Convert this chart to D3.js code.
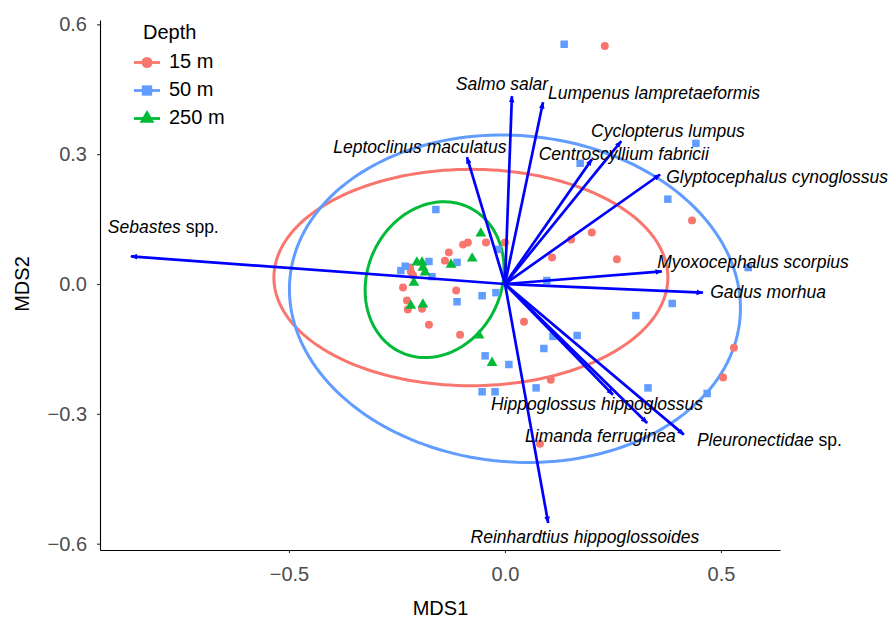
<!DOCTYPE html>
<html>
<head>
<meta charset="utf-8">
<script src="https://cdn.jsdelivr.net/npm/d3@7"></script>
<style>
  body { margin: 0; background: #fff; }
  text { font-family: Arial, "Liberation Sans", Helvetica, sans-serif; }
</style>
</head>
<body>
<svg id="chart" width="894" height="618"></svg>
<script>
// ---- NMDS site scores by sampling depth ----
const depths = ["15 m", "50 m", "250 m"];
const depthColors = ["#F8766D", "#619CFF", "#00BA38"];

const sites15 = [
  [0.231, 0.550], [0.433, 0.147], [0.201, 0.119], [0.153, 0.103], [0.109, 0.061],
  [0.259, 0.057], [0.000, 0.096], [-0.044, 0.096], [-0.086, 0.096], [-0.097, 0.091],
  [-0.130, 0.073], [-0.139, 0.054], [-0.220, 0.038], [-0.218, 0.029], [-0.213, 0.020],
  [-0.236, -0.008], [-0.113, -0.015], [-0.227, -0.038], [-0.225, -0.059], [-0.192, -0.057],
  [-0.176, -0.094], [-0.104, -0.117], [0.044, -0.087], [0.106, -0.221], [0.530, -0.147],
  [0.505, -0.216], [0.081, -0.369]
];
const sites50 = [
  [0.137, 0.554], [0.442, 0.325], [0.174, 0.279], [0.377, 0.196], [0.563, 0.038],
  [-0.160, 0.172], [-0.016, 0.080], [0.097, 0.008], [-0.176, 0.052], [-0.111, 0.050],
  [-0.241, 0.031], [-0.231, 0.041], [-0.169, 0.017], [-0.053, -0.027], [-0.021, -0.020],
  [-0.111, -0.041], [0.387, -0.045], [0.303, -0.073], [0.167, -0.119], [0.111, -0.121],
  [0.090, -0.149], [-0.046, -0.166], [0.009, -0.186], [-0.053, -0.249], [-0.023, -0.249],
  [0.072, -0.240], [0.331, -0.240], [0.468, -0.253]
];
const sites250 = [
  [-0.056, 0.117], [-0.076, 0.059], [-0.125, 0.045], [-0.204, 0.050], [-0.192, 0.050],
  [-0.190, 0.038], [-0.185, 0.027], [-0.211, 0.003], [-0.218, -0.050], [-0.190, -0.047],
  [-0.060, -0.119], [-0.030, -0.182]
];

// 95% confidence ellipses per depth: centre, semi-axes, rotation (degrees)
const ellipseCX = [-0.079, 0.023, -0.163];
const ellipseCY = [0.015, -0.034, 0.010];
const ellipseRX = [0.456, 0.523, 0.185];
const ellipseRY = [0.250, 0.377, 0.155];
const ellipseAngle = [0, -5, 65];

// ---- species vectors (envfit) ----
const species = [
  "Salmo salar", "Lumpenus lampretaeformis", "Cyclopterus lumpus", "Centroscyllium fabricii",
  "Glyptocephalus cynoglossus", "Leptoclinus maculatus", "Sebastes|spp.", "Myoxocephalus scorpius",
  "Gadus morhua", "Hippoglossus hippoglossus", "Limanda ferruginea", "Pleuronectidae|sp.",
  "Reinhardtius hippoglossoides"
];
const vectorX = [0.016, 0.088, 0.269, 0.201, 0.359, -0.088, -0.866, 0.363, 0.458, 0.250, 0.329, 0.414, 0.100];
const vectorY = [0.434, 0.420, 0.330, 0.288, 0.253, 0.293, 0.064, 0.029, -0.020, -0.256, -0.321, -0.348, -0.552];
const labelX = [-0.007, 0.345, 0.377, 0.275, 0.630, -0.197, -0.791, 0.574, 0.609, 0.213, 0.221, 0.612, 0.185];
const labelY = [0.462, 0.441, 0.355, 0.302, 0.249, 0.318, 0.133, 0.052, -0.017, -0.277, -0.351, -0.360, -0.584];

const xTicks = [-0.5, 0.0, 0.5];
const yTicks = [-0.6, -0.3, 0.0, 0.3, 0.6];

// ---- layout ----
const svg = d3.select("#chart");
const x = d3.scaleLinear().domain([-0.9375, 0.6366]).range([100, 780]);
const y = d3.scaleLinear().domain([-0.6146, 0.6100]).range([550, 20]);
const fmt = d3.format(".1f");

// axes
const xAxis = svg.append("g")
  .attr("transform", `translate(0,${y.range()[0]})`)
  .call(d3.axisBottom(x).tickValues(xTicks).tickFormat(fmt).tickSize(3).tickPadding(14).tickSizeOuter(0));
const yAxis = svg.append("g")
  .attr("transform", `translate(${x.range()[0]},0)`)
  .call(d3.axisLeft(y).tickValues(yTicks).tickFormat(fmt).tickSize(3).tickPadding(10).tickSizeOuter(0));
[xAxis, yAxis].forEach(g => {
  g.select(".domain").attr("stroke", "#000").attr("stroke-width", 1.1);
  g.selectAll(".tick line").attr("stroke", "#333").attr("stroke-width", 1.1);
  g.selectAll(".tick text").attr("fill", "#4D4D4D").style("font-size", "20px")
    .style("font-family", "Arial, 'Liberation Sans', sans-serif");
});

svg.append("text").attr("x", (x.range()[0] + x.range()[1]) / 2 + 0.5).attr("y", 615)
  .attr("text-anchor", "middle").style("font-size", "20px").attr("fill", "#000").text("MDS1");
svg.append("text").attr("transform", `translate(29,${y(0)}) rotate(-90)`)
  .attr("text-anchor", "middle").style("font-size", "20px").attr("fill", "#000").text("MDS2");

// ellipses
const ellipseLine = d3.line().x(d => x(d[0])).y(d => y(d[1])).curve(d3.curveLinearClosed);
depths.forEach((dep, i) => {
  const a = ellipseAngle[i] * Math.PI / 180;
  const pts = d3.range(0, 2 * Math.PI, Math.PI / 90).map(t => {
    const dx = ellipseRX[i] * Math.cos(t), dy = ellipseRY[i] * Math.sin(t);
    return [ellipseCX[i] + dx * Math.cos(a) - dy * Math.sin(a),
            ellipseCY[i] + dx * Math.sin(a) + dy * Math.cos(a)];
  });
  svg.append("path").attr("d", ellipseLine(pts)).attr("fill", "none")
    .attr("stroke", depthColors[i]).attr("stroke-width", 3);
});

// site points
const siteSets = [sites15, sites50, sites250];
const symbolTypes = [d3.symbolCircle, d3.symbolSquare, d3.symbolTriangle];
const symbolSizes = [50, 56, 50];
siteSets.forEach((set, i) => {
  svg.append("g").selectAll("path").data(set).join("path")
    .attr("transform", d => `translate(${x(d[0])},${y(d[1])})`)
    .attr("d", d3.symbol().type(symbolTypes[i]).size(symbolSizes[i]))
    .attr("fill", depthColors[i]);
});

// species vectors
svg.append("defs").append("marker")
  .attr("id", "arrowhead").attr("viewBox", "0 0 10 10").attr("refX", 9).attr("refY", 5)
  .attr("markerWidth", 7).attr("markerHeight", 7).attr("markerUnits", "userSpaceOnUse")
  .attr("orient", "auto")
  .append("path").attr("d", "M0,1 L10,5 L0,9 Z").attr("fill", "#0000FF");

svg.append("g").selectAll("line").data(species).join("line")
  .attr("x1", x(0)).attr("y1", y(0))
  .attr("x2", (d, i) => x(vectorX[i])).attr("y2", (d, i) => y(vectorY[i]))
  .attr("stroke", "#0000FF").attr("stroke-width", 2.7)
  .attr("marker-end", "url(#arrowhead)");

const labels = svg.append("g").selectAll("text").data(species).join("text")
  .attr("x", (d, i) => x(labelX[i])).attr("y", (d, i) => y(labelY[i]))
  .attr("dy", "0.36em").attr("text-anchor", "middle")
  .style("font-size", "17.5px").attr("fill", "#000");
labels.each(function (d) {
  const [genus, rest] = d.split("|");
  const t = d3.select(this);
  t.append("tspan").style("font-style", "italic").text(genus);
  if (rest) t.append("tspan").text(" " + rest);
});

// legend
const legend = svg.append("g");
legend.append("text").attr("x", 143).attr("y", 39).style("font-size", "20px").attr("fill", "#000").text("Depth");
const keyY = [62.5, 90.5, 118.5];
depths.forEach((dep, i) => {
  legend.append("line").attr("x1", 134).attr("x2", 160).attr("y1", keyY[i]).attr("y2", keyY[i])
    .attr("stroke", depthColors[i]).attr("stroke-width", 2.8);
  legend.append("path").attr("transform", `translate(147,${keyY[i]})`)
    .attr("d", d3.symbol().type(symbolTypes[i]).size(symbolSizes[i] * 1.9)).attr("fill", depthColors[i]);
  legend.append("text").attr("x", 169).attr("y", keyY[i] - 1.5).attr("dy", "0.36em")
    .style("font-size", "20px").attr("fill", "#000").text(dep);
});
</script>
</body>
</html>
